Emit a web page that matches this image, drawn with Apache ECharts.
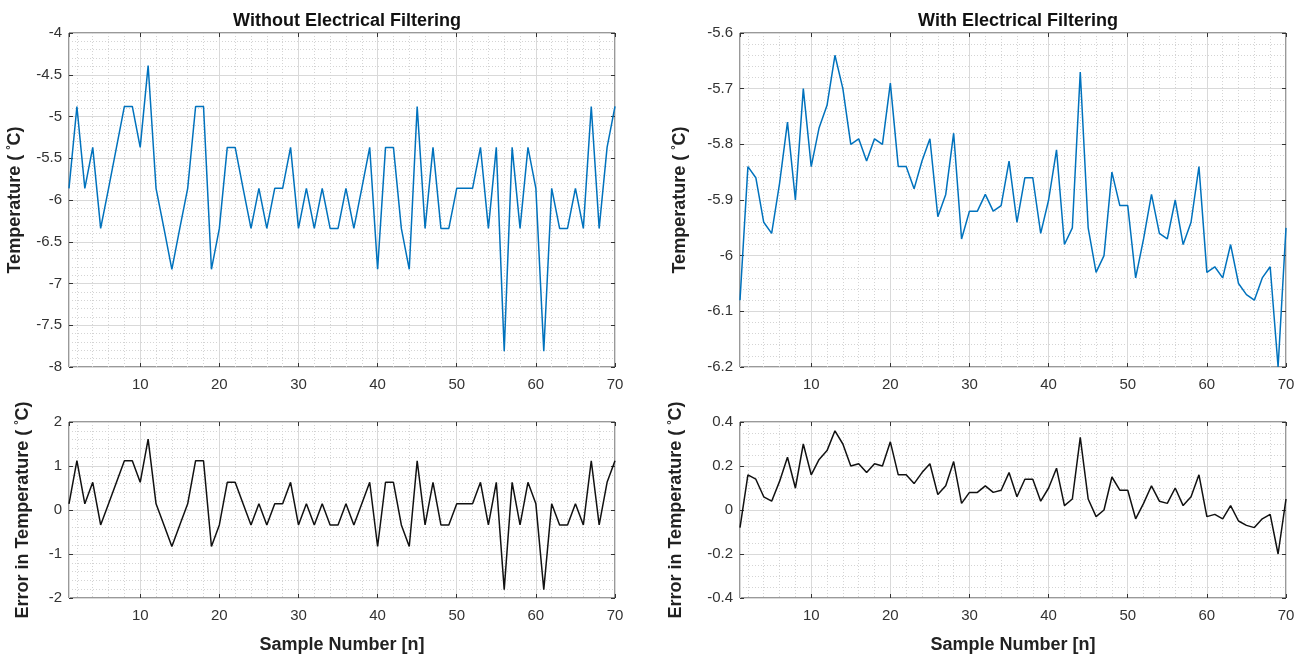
<!DOCTYPE html>
<html>
<head>
<meta charset="utf-8">
<script src="https://cdn.jsdelivr.net/npm/echarts@6/dist/echarts.min.js"></script>
<style>
  html, body { margin: 0; padding: 0; background: #fff; }
  #container { width: 1306px; height: 657px; }
</style>
</head>
<body>
<div id="container"></div>
<script>
// sample numbers 1..70
const samples = [];
for (let n = 1; n <= 70; n++) samples.push(n);

// without electrical filtering
const tempRaw = [
  -5.86, -4.88, -5.86, -5.37, -6.34, -5.86, -5.37, -4.88, -4.88, -5.37,
  -4.39, -5.86, -6.34, -6.83, -6.34, -5.86, -4.88, -4.88, -6.83, -6.34,
  -5.37, -5.37, -5.86, -6.34, -5.86, -6.34, -5.86, -5.86, -5.37, -6.34,
  -5.86, -6.34, -5.86, -6.34, -6.34, -5.86, -6.34, -5.86, -5.37, -6.83,
  -5.37, -5.37, -6.34, -6.83, -4.88, -6.34, -5.37, -6.34, -6.34, -5.86,
  -5.86, -5.86, -5.37, -6.34, -5.37, -7.81, -5.37, -6.34, -5.37, -5.86,
  -7.81, -5.86, -6.34, -6.34, -5.86, -6.34, -4.88, -6.34, -5.37, -4.88
];
const errRaw = [
  0.14, 1.12, 0.14, 0.63, -0.34, 0.14, 0.63, 1.12, 1.12, 0.63,
  1.61, 0.14, -0.34, -0.83, -0.34, 0.14, 1.12, 1.12, -0.83, -0.34,
  0.63, 0.63, 0.14, -0.34, 0.14, -0.34, 0.14, 0.14, 0.63, -0.34,
  0.14, -0.34, 0.14, -0.34, -0.34, 0.14, -0.34, 0.14, 0.63, -0.83,
  0.63, 0.63, -0.34, -0.83, 1.12, -0.34, 0.63, -0.34, -0.34, 0.14,
  0.14, 0.14, 0.63, -0.34, 0.63, -1.81, 0.63, -0.34, 0.63, 0.14,
  -1.81, 0.14, -0.34, -0.34, 0.14, -0.34, 1.12, -0.34, 0.63, 1.12
];

// with electrical filtering
const tempFilt = [
  -6.08, -5.84, -5.86, -5.94, -5.96, -5.87, -5.76, -5.90, -5.70, -5.84,
  -5.77, -5.73, -5.64, -5.70, -5.80, -5.79, -5.83, -5.79, -5.80, -5.69,
  -5.84, -5.84, -5.88, -5.83, -5.79, -5.93, -5.89, -5.78, -5.97, -5.92,
  -5.92, -5.89, -5.92, -5.91, -5.83, -5.94, -5.86, -5.86, -5.96, -5.90,
  -5.81, -5.98, -5.95, -5.67, -5.95, -6.03, -6.00, -5.85, -5.91, -5.91,
  -6.04, -5.97, -5.89, -5.96, -5.97, -5.90, -5.98, -5.94, -5.84, -6.03,
  -6.02, -6.04, -5.98, -6.05, -6.07, -6.08, -6.04, -6.02, -6.20, -5.95
];
const errFilt = [
  -0.08, 0.16, 0.14, 0.06, 0.04, 0.13, 0.24, 0.10, 0.30, 0.16,
  0.23, 0.27, 0.36, 0.30, 0.20, 0.21, 0.17, 0.21, 0.20, 0.31,
  0.16, 0.16, 0.12, 0.17, 0.21, 0.07, 0.11, 0.22, 0.03, 0.08,
  0.08, 0.11, 0.08, 0.09, 0.17, 0.06, 0.14, 0.14, 0.04, 0.10,
  0.19, 0.02, 0.05, 0.33, 0.05, -0.03, 0.00, 0.15, 0.09, 0.09,
  -0.04, 0.03, 0.11, 0.04, 0.03, 0.10, 0.02, 0.06, 0.16, -0.03,
  -0.02, -0.04, 0.02, -0.05, -0.07, -0.08, -0.04, -0.02, -0.20, 0.05
];

const titles = ['Without Electrical Filtering', 'With Electrical Filtering'];

const FONT = 'Liberation Sans, Arial, sans-serif';
const sup = { fontSize: 11, fontWeight: 'bold', fontFamily: FONT, color: '#222', padding: [0, 0, 9, 0] };

const grids = [
  { left: 69, width: 546, top: 33, height: 334 },
  { left: 69, width: 546, top: 422, height: 176 },
  { left: 740, width: 546, top: 33, height: 334 },
  { left: 740, width: 546, top: 422, height: 176 }
].map(g => ({ ...g, show: true, borderColor: '#333', borderWidth: 1, backgroundColor: '#fff' }));

const tickStyle = { inside: true, length: 4, lineStyle: { color: '#333' } };

function xAxis(gi, withName) {
  return {
    type: 'value', gridIndex: gi, min: 1, max: 70, splitNumber: 7,
    name: withName ? 'Sample Number [n]' : '',
    nameLocation: 'middle', nameGap: 38,
    nameTextStyle: { fontSize: 18, fontWeight: 'bold', color: '#222', fontFamily: FONT },
    axisLine: { show: false, onZero: false },
    axisTick: tickStyle,
    axisLabel: { showMinLabel: false, margin: 10, fontSize: 15, color: '#333', fontFamily: FONT },
    splitLine: { show: true, lineStyle: { color: '#d9d9d9', width: 1 } },
    minorTick: { show: false, splitNumber: 5 },
    minorSplitLine: { show: true, lineStyle: { color: '#d4d4d4', type: [1, 2], width: 1 } }
  };
}

// mirrored ticks on the top edge (box style)
function xAxisTop(gi) {
  return {
    type: 'value', gridIndex: gi, min: 1, max: 70, splitNumber: 7, position: 'top',
    axisLine: { show: false, onZero: false },
    axisTick: tickStyle,
    axisLabel: { show: false },
    splitLine: { show: false }
  };
}

function yAxis(gi, min, max, interval, minorSplit, name, gap) {
  return {
    type: 'value', gridIndex: gi, min, max, interval,
    name, nameLocation: 'middle', nameGap: gap, nameRotate: 90,
    nameTextStyle: { fontSize: 18, fontWeight: 'bold', color: '#222', fontFamily: FONT, rich: { s: sup } },
    axisLine: { show: false, onZero: false },
    axisTick: tickStyle,
    axisLabel: { margin: 7, fontSize: 15, color: '#333', fontFamily: FONT },
    splitLine: { show: true, lineStyle: { color: '#d9d9d9', width: 1 } },
    minorTick: { show: false, splitNumber: minorSplit },
    minorSplitLine: { show: true, lineStyle: { color: '#d4d4d4', type: [1, 2], width: 1 } }
  };
}

function yAxisRight(gi, min, max, interval) {
  return {
    type: 'value', gridIndex: gi, min, max, interval, position: 'right',
    axisLine: { show: false, onZero: false },
    axisTick: tickStyle,
    axisLabel: { show: false },
    splitLine: { show: false }
  };
}

function pairs(ys) {
  return samples.map((n, i) => [n, ys[i]]);
}

const option = {
  backgroundColor: '#fff',
  animation: false,
  title: [
    { text: titles[0], left: 342, top: 7, textAlign: 'center',
      textStyle: { fontSize: 18, fontWeight: 'bold', color: '#111', fontFamily: FONT } },
    { text: titles[1], left: 1013, top: 7, textAlign: 'center',
      textStyle: { fontSize: 18, fontWeight: 'bold', color: '#111', fontFamily: FONT } }
  ],
  grid: grids,
  xAxis: [
    xAxis(0, false), xAxis(1, true), xAxis(2, false), xAxis(3, true),
    xAxisTop(0), xAxisTop(1), xAxisTop(2), xAxisTop(3)
  ],
  yAxis: [
    yAxis(0, -8, -4, 0.5, 5, 'Temperature ( {s|°}C)', 44),
    yAxis(1, -2, 2, 1, 5, 'Error in Temperature ( {s|°}C)', 36),
    yAxis(2, -6.2, -5.6, 0.1, 5, 'Temperature ( {s|°}C)', 50),
    yAxis(3, -0.4, 0.4, 0.2, 4, 'Error in Temperature ( {s|°}C)', 54),
    yAxisRight(0, -8, -4, 0.5), yAxisRight(1, -2, 2, 1),
    yAxisRight(2, -6.2, -5.6, 0.1), yAxisRight(3, -0.4, 0.4, 0.2)
  ],
  series: [
    { type: 'line', xAxisIndex: 0, yAxisIndex: 0, data: pairs(tempRaw), showSymbol: false,
      lineStyle: { color: '#0072BD', width: 1.5 }, itemStyle: { color: '#0072BD' } },
    { type: 'line', xAxisIndex: 1, yAxisIndex: 1, data: pairs(errRaw), showSymbol: false,
      lineStyle: { color: '#111', width: 1.5 }, itemStyle: { color: '#111' } },
    { type: 'line', xAxisIndex: 2, yAxisIndex: 2, data: pairs(tempFilt), showSymbol: false,
      lineStyle: { color: '#0072BD', width: 1.5 }, itemStyle: { color: '#0072BD' } },
    { type: 'line', xAxisIndex: 3, yAxisIndex: 3, data: pairs(errFilt), showSymbol: false,
      lineStyle: { color: '#111', width: 1.5 }, itemStyle: { color: '#111' } }
  ]
};

const myChart = echarts.init(document.getElementById('container'));
myChart.setOption(option);
</script>
</body>
</html>
